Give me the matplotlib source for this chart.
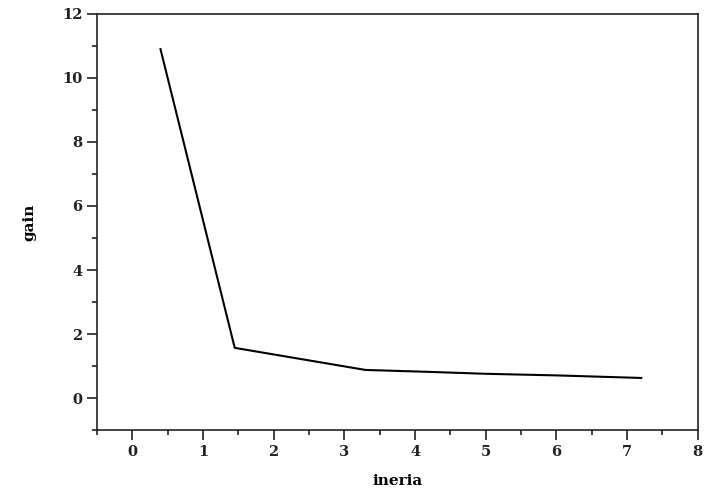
import matplotlib
matplotlib.use("Agg")
import matplotlib.pyplot as plt
from matplotlib.ticker import MultipleLocator

# data
ineria = [0.4, 1.45, 3.3, 4.2, 5.0, 6.0, 7.2]
gain = [10.9, 1.57, 0.88, 0.82, 0.76, 0.71, 0.63]

plt.rcParams['font.family'] = ['DejaVu Serif']
plt.rcParams['font.weight'] = 'bold'

fig = plt.figure(figsize=(7.07, 4.95), dpi=100)
ax = fig.add_axes([0.137, 0.131, 0.85, 0.841])

ax.plot(ineria, gain, color='black', linewidth=1.5)

ax.set_xlim(-0.5, 8)
ax.set_ylim(-1, 12)
ax.xaxis.set_major_locator(MultipleLocator(1))
ax.xaxis.set_minor_locator(MultipleLocator(0.5))
ax.yaxis.set_major_locator(MultipleLocator(2))
ax.yaxis.set_minor_locator(MultipleLocator(1))

ax.tick_params(which='major', direction='out', length=7, width=1.2,
               labelsize=10.5, colors='#222222')
ax.tick_params(which='minor', direction='out', length=3.5, width=1.2,
               colors='#222222')
for s in ax.spines.values():
    s.set_linewidth(1.2)
    s.set_color('#222222')

ax.set_xlabel('ineria', fontsize=11, fontweight='bold', labelpad=11)
ax.set_ylabel('gain', fontsize=11, fontweight='bold', labelpad=18)

fig.savefig('out.png', dpi=100)
